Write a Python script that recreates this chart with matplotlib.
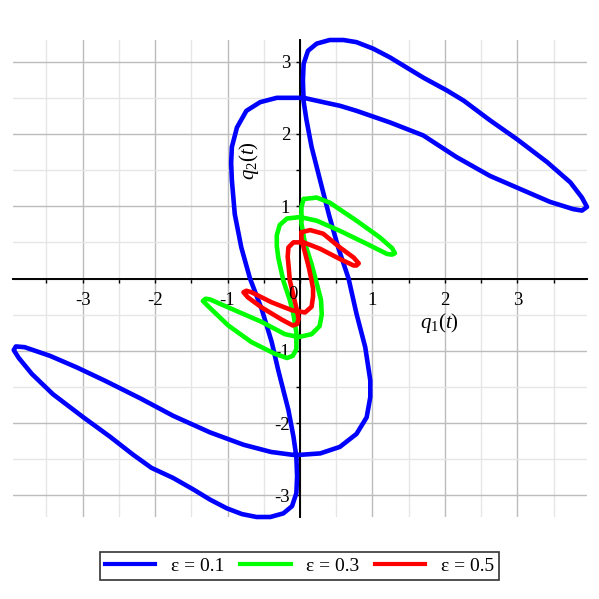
import matplotlib
matplotlib.use('Agg')
import matplotlib.pyplot as plt
from matplotlib.ticker import MultipleLocator, FuncFormatter
from matplotlib.lines import Line2D

plt.rcParams['font.family'] = ['Liberation Serif', 'DejaVu Serif']
plt.rcParams['mathtext.fontset'] = 'custom'
plt.rcParams['mathtext.rm'] = 'Liberation Serif'
plt.rcParams['mathtext.it'] = 'Liberation Serif:italic'
plt.rcParams['axes.unicode_minus'] = False

# ---- data ----
blue_q1 = [0.05, -0.32, -0.55, -0.74, -0.87, -0.94, -0.95, -0.94, -0.90, -0.81, -0.69, -0.53,
           -0.39, -0.30, -0.16, -0.09, -0.05, -0.04, -0.05, -0.11, -0.23, -0.41, -0.60, -0.80,
           -1.01, -1.24, -1.47, -1.75, -2.05, -2.30, -2.62, -2.99, -3.41, -3.70, -3.88, -3.95,
           -3.92, -3.80, -3.45, -3.08, -2.70, -2.20, -1.75, -1.24, -0.78, -0.40, -0.10, 0.0,
           0.28, 0.55, 0.78, 0.92, 0.97, 0.97, 0.90, 0.78, 0.67, 0.53, 0.40, 0.30, 0.16, 0.09,
           0.05, 0.04, 0.05, 0.11, 0.23, 0.41, 0.60, 0.78, 1.01, 1.24, 1.47, 1.70, 2.03, 2.26,
           2.62, 2.99, 3.41, 3.73, 3.89, 3.96, 3.89, 3.77, 3.45, 3.08, 2.62, 2.16, 1.70, 1.24,
           0.78, 0.55, 0.32, 0.05]
blue_q2 = [2.50, 2.50, 2.44, 2.32, 2.09, 1.82, 1.60, 1.36, 0.89, 0.43, 0.0, -0.42,
           -0.88, -1.27, -1.82, -2.19, -2.47, -2.74, -2.97, -3.15, -3.25, -3.30, -3.30, -3.26,
           -3.18, -3.06, -2.92, -2.76, -2.62, -2.44, -2.19, -1.92, -1.60, -1.32, -1.10, -0.99,
           -0.94, -0.95, -1.07, -1.23, -1.41, -1.66, -1.90, -2.13, -2.30, -2.40, -2.44, -2.44,
           -2.42, -2.33, -2.15, -1.92, -1.64, -1.41, -0.95, -0.49, 0.0, 0.42, 0.88, 1.27, 1.82, 2.19,
           2.45, 2.74, 2.97, 3.15, 3.25, 3.30, 3.30, 3.27, 3.18, 3.06, 2.92, 2.78, 2.60, 2.46,
           2.19, 1.93, 1.61, 1.33, 1.12, 0.99, 0.94, 0.96, 1.06, 1.22, 1.42, 1.68, 1.98, 2.16,
           2.32, 2.39, 2.44, 2.50]

green_q1 = [0.05, 0.23, 0.41, 0.78, 1.10, 1.27, 1.31, 1.27, 1.20, 0.92, 0.55, 0.23, 0.0,
            -0.18, -0.28, -0.32, -0.32, -0.30, -0.23, -0.14, -0.09, -0.05, -0.05, -0.10, -0.18,
            -0.35, -0.67, -0.99, -1.25, -1.34, -1.30, -1.24, -0.99, -0.53, -0.21, -0.02, 0.16,
            0.27, 0.30, 0.29, 0.25, 0.16, 0.07, 0.02, 0.02, 0.05]
green_q2 = [1.10, 1.12, 1.05, 0.80, 0.57, 0.42, 0.35, 0.33, 0.34, 0.48, 0.66, 0.80, 0.85,
            0.83, 0.74, 0.60, 0.45, 0.29, -0.03, -0.30, -0.50, -0.75, -0.98, -1.07, -1.10,
            -1.04, -0.88, -0.65, -0.40, -0.31, -0.28, -0.29, -0.40, -0.60, -0.77, -0.81, -0.77,
            -0.66, -0.50, -0.30, -0.14, 0.20, 0.48, 0.76, 0.99, 1.10]

red_q1 = [0.02, 0.14, 0.32, 0.55, 0.74, 0.81, 0.78, 0.74, 0.55, 0.28, 0.05, -0.09, -0.16,
          -0.17, -0.16, -0.14, -0.09, -0.04, -0.02, -0.04, -0.10, -0.25, -0.53, -0.72, -0.78,
          -0.74, -0.67, -0.39, -0.11, 0.07, 0.16, 0.18, 0.18, 0.16, 0.12, 0.05, 0.02, 0.02]
red_q2 = [0.64, 0.67, 0.62, 0.43, 0.29, 0.21, 0.18, 0.18, 0.27, 0.41, 0.50, 0.50, 0.43,
          0.30, 0.20, -0.03, -0.24, -0.45, -0.56, -0.63, -0.65, -0.57, -0.40, -0.26, -0.19,
          -0.17, -0.19, -0.33, -0.44, -0.47, -0.39, -0.25, -0.14, -0.03, 0.16, 0.43, 0.55, 0.64]

series_labels = ['ε = 0.1', 'ε = 0.3', 'ε = 0.5']
series_colors = ['#0000ff', '#00ff00', '#ff0000']

fig = plt.figure(figsize=(5.99, 5.99), dpi=100)
ax = fig.add_axes([13/599, 1 - 517/599, 574/599, 477/599])
ax.set_xlim(-3.96, 3.96)
ax.set_ylim(-3.3, 3.3)

for s in ['top', 'right']:
    ax.spines[s].set_visible(False)
for s in ['left', 'bottom']:
    ax.spines[s].set_position(('data', 0))
    ax.spines[s].set_linewidth(1.4)
    ax.spines[s].set_zorder(2.5)

ax.xaxis.set_major_locator(MultipleLocator(1))
ax.yaxis.set_major_locator(MultipleLocator(1))
ax.xaxis.set_minor_locator(MultipleLocator(0.5))
ax.yaxis.set_minor_locator(MultipleLocator(0.5))
fmt = FuncFormatter(lambda v, p: '' if abs(v) < 1e-9 else f'{int(round(v))}')
ax.xaxis.set_major_formatter(fmt)
ax.yaxis.set_major_formatter(fmt)
ax.tick_params(which='both', direction='out', length=3, width=1, color='black')
ax.tick_params(axis='x', which='major', pad=7, labelsize=13.5)
ax.tick_params(axis='y', which='major', pad=4, labelsize=13.5)

ax.set_axisbelow(True)
ax.grid(which='major', color='#bcbcbc', lw=1.0)
ax.grid(which='minor', color='#e6e6e6', lw=1.0)

for xs, ys, c in [(blue_q1, blue_q2, series_colors[0]),
                  (green_q1, green_q2, series_colors[1]),
                  (red_q1, red_q2, series_colors[2])]:
    ax.plot(xs, ys, color=c, lw=3.3, solid_joinstyle='round', solid_capstyle='round',
            zorder=3, clip_on=False)

ax.text(-0.1, -0.22, '0', fontsize=13.5, ha='center', va='center')
ax.text(1.93, -0.62, r'$q_1(t)$', fontsize=15, ha='center', va='center')
ax.text(-0.7, 1.63, r'$q_2(t)$', fontsize=15, ha='center', va='center', rotation=90)

handles = [Line2D([], [], color=c, lw=3) for c in series_colors]
leg = fig.legend(handles, series_labels, loc='center', bbox_to_anchor=(0.5, 1 - 566/599),
                 ncol=3, frameon=True, fancybox=False, edgecolor='black', fontsize=14,
                 handlelength=2.6, columnspacing=0.8, handletextpad=0.8, borderpad=0.25)
leg.get_frame().set_linewidth(1.2)

fig.savefig('out.png', dpi=100)
